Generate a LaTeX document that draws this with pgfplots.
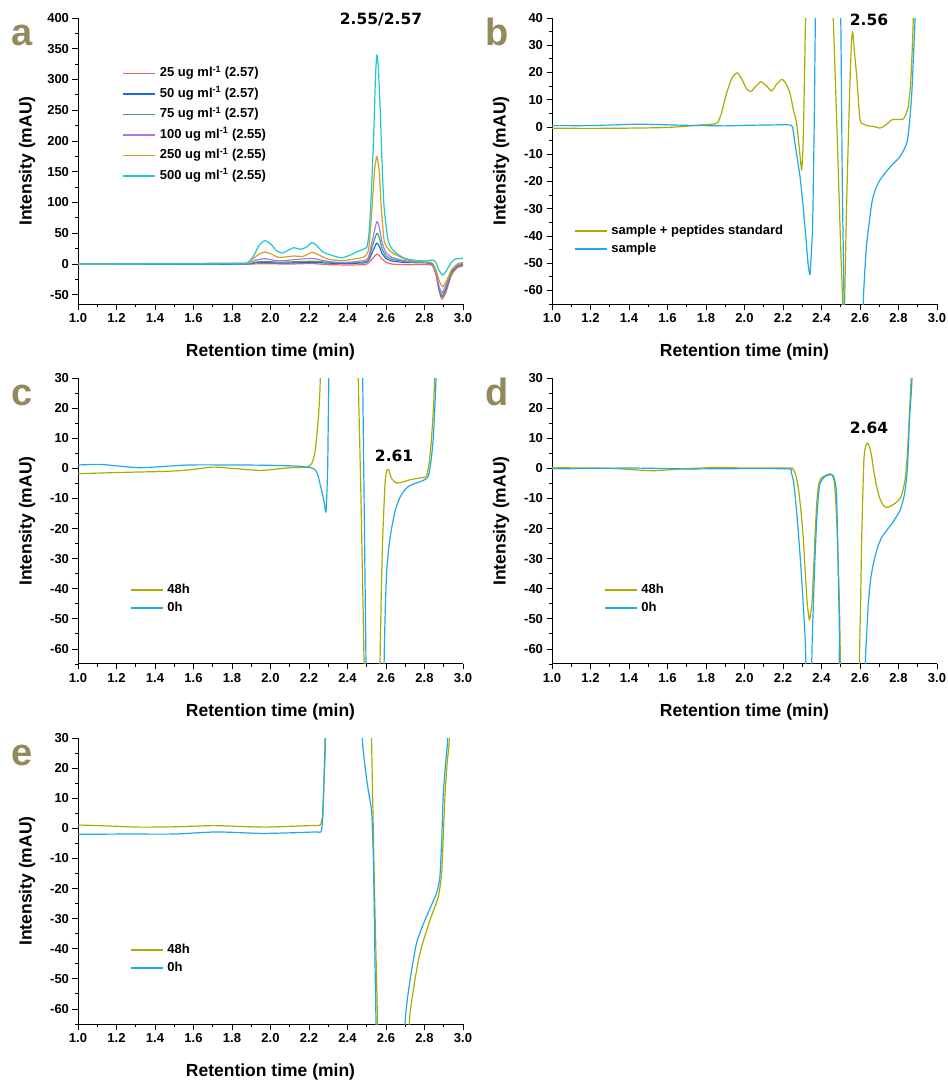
\documentclass[border=0pt]{standalone}
\usepackage{fontspec}
\setmainfont{Liberation Sans}
\newfontfamily\annfont{DejaVu Sans}
\usepackage{pgfplots}
\pgfplotsset{compat=1.18}

\definecolor{c25}{RGB}{240,100,100}
\definecolor{c50}{RGB}{30,100,230}
\definecolor{c75}{RGB}{60,170,110}
\definecolor{c100}{RGB}{170,120,230}
\definecolor{c250}{RGB}{212,160,30}
\definecolor{c500}{RGB}{30,200,210}
\definecolor{olive48}{RGB}{172,172,0}
\definecolor{sky0}{RGB}{30,170,230}
\definecolor{panel}{RGB}{148,137,90}

\newcommand\tickfont{\fontsize{13}{15}\selectfont\bfseries}
\newcommand\labfont{\fontsize{17.5}{20}\selectfont\bfseries}
\newcommand\legfont{\fontsize{13}{15}\selectfont\bfseries}
\newcommand\panfont{\fontsize{38}{40}\selectfont\bfseries}
\newcommand\annot{\fontsize{15.5}{17}\selectfont\annfont\bfseries}

\pgfplotsset{
  legend image code/.code={\draw[#1, line width=1.3pt] (0pt,0pt) -- (32pt,0pt);},
  chrom/.style={
    scale only axis, width=385pt, height=286pt,
    xmin=1, xmax=3, ymin=-65,
    axis x line*=bottom, axis y line*=left,
    axis line style={line width=1pt},
    tick align=outside, tick style={black, line width=0.8pt},
    major tick length=5.5pt, minor tick length=2.7pt,
    xtick={1,1.2,1.4,1.6,1.8,2,2.2,2.4,2.6,2.8,3},
    xticklabels={1.0,1.2,1.4,1.6,1.8,2.0,2.2,2.4,2.6,2.8,3.0},
    minor x tick num=1,
    minor y tick num=1,
    /pgf/number format/assume math mode=true,
    ticklabel style={font=\tickfont},
    x tick label style={anchor=north, text height=9.4pt, text depth=0pt},
    y tick label style={/pgf/number format/.cd, fixed, precision=0},
    xlabel={Retention time (min)}, ylabel={Intensity (mAU)},
    label style={font=\labfont},
    xlabel style={at={(axis description cs:0.5,-0.168)}, anchor=center},
    ylabel style={at={(axis description cs:-0.1325,0.5)}, anchor=center},
    clip mode=individual,
    every axis plot/.append style={line width=1.2pt, line join=round, smooth, tension=0.35},
    legend cell align=left,
    legend style={draw=none, fill=none, font=\legfont, anchor=north west,
      inner sep=0pt, column sep=4pt,
      nodes={inner sep=0pt, text height=9.5pt, text depth=3pt}},
  }
}

\begin{document}
\begin{tikzpicture}
\useasboundingbox (0,0) rectangle (948pt,-1080pt);

% ---- a ----
\begin{axis}[chrom, at={(78pt,-18pt)}, anchor=north west,
  ymax=400, ytick distance=50,
  legend image code/.code={\draw[#1, line width=1.7pt] (0pt,0pt) -- (32pt,0pt);},
  legend style={at={(axis description cs:0.1143,0.829)}, row sep=8pt}]
\addplot[c25] coordinates {(1.0,0) (1.5,0) (1.87,0) (1.97,0.5) (2.1,0) (2.215,0.8) (2.3,-1) (2.4,-1.5) (2.49,-1) (2.51,2) (2.53,9) (2.552,16) (2.565,14) (2.58,8) (2.6,3) (2.63,0) (2.7,-1) (2.8,-1) (2.84,-2) (2.86,-18) (2.875,-42) (2.89,-57) (2.91,-47) (2.94,-18) (2.97,-6) (3.0,-3)};
\addlegendentry{25 ug ml\textsuperscript{-1} (2.57)}
\addplot[c50] coordinates {(1.0,-0.5) (1.5,-0.5) (1.87,0) (1.92,2) (1.97,2.7) (2.05,1.5) (2.215,2.7) (2.3,1.5) (2.4,1) (2.49,2) (2.51,6) (2.53,20) (2.552,34) (2.565,29) (2.58,17) (2.6,9) (2.63,5) (2.7,2.5) (2.8,2) (2.84,0) (2.86,-15) (2.875,-40) (2.89,-53) (2.91,-42) (2.94,-14) (2.97,-4) (3.0,-1)};
\addlegendentry{50 ug ml\textsuperscript{-1} (2.57)}
\addplot[c75] coordinates {(1.0,-0.5) (1.5,0) (1.87,0.5) (1.92,3) (1.97,4.3) (2.05,3) (2.215,4.5) (2.3,3) (2.4,2.5) (2.49,3.5) (2.51,8) (2.53,30) (2.552,50) (2.565,43) (2.58,25) (2.6,13) (2.63,8) (2.7,4) (2.8,2.5) (2.84,0.5) (2.86,-15) (2.875,-38) (2.89,-52) (2.91,-40) (2.94,-12) (2.97,-3) (3.0,0)};
\addlegendentry{75 ug ml\textsuperscript{-1} (2.57)}
\addplot[c100] coordinates {(1.0,0) (1.5,1) (1.87,1.5) (1.92,6) (1.97,8.7) (2.02,6) (2.06,5.4) (2.12,7) (2.215,9.2) (2.27,6) (2.33,3) (2.4,2.5) (2.49,6) (2.51,12) (2.53,40) (2.552,68.8) (2.565,60) (2.58,35) (2.6,18) (2.63,11) (2.7,5) (2.8,3) (2.84,1) (2.86,-15) (2.875,-35) (2.89,-47) (2.91,-35) (2.94,-10) (2.97,-2) (3.0,1.5)};
\addlegendentry{100 ug ml\textsuperscript{-1} (2.55)}
\addplot[c250] coordinates {(1.0,0) (1.5,0.5) (1.87,1) (1.9,6) (1.94,16) (1.97,19.5) (2.0,17) (2.04,11) (2.08,11.5) (2.12,13) (2.17,12.5) (2.215,19) (2.25,15) (2.3,8) (2.37,5.5) (2.43,8) (2.49,12) (2.51,25) (2.525,80) (2.54,150) (2.552,175) (2.565,150) (2.575,93) (2.59,39) (2.61,25) (2.64,17) (2.7,7.6) (2.75,4.5) (2.81,3.3) (2.84,2) (2.86,-10) (2.88,-30) (2.895,-37) (2.91,-30) (2.94,-10) (2.97,0) (3.0,2.5)};
\addlegendentry{250 ug ml\textsuperscript{-1} (2.55)}
\addplot[c500] coordinates {(1.0,0.5) (1.5,0.5) (1.85,1) (1.88,2) (1.91,12) (1.94,30) (1.97,38) (2.0,33) (2.03,22) (2.06,18) (2.09,22) (2.12,26.5) (2.16,24) (2.19,28) (2.215,35) (2.24,30) (2.27,20) (2.3,16) (2.34,12) (2.37,10) (2.41,14) (2.45,20) (2.48,24) (2.5,27) (2.51,45) (2.52,90) (2.535,200) (2.545,300) (2.552,340) (2.56,320) (2.57,250) (2.58,160) (2.59,93) (2.61,40) (2.63,25) (2.66,16) (2.7,9) (2.75,6) (2.8,5) (2.83,6) (2.845,6.5) (2.86,2) (2.875,-10) (2.895,-18) (2.915,-10) (2.94,3) (2.96,8) (3.0,9.5)};
\addlegendentry{500 ug ml\textsuperscript{-1} (2.55)}
\node[font=\annot, yshift=-1.5pt] at (axis cs:2.574,400) {2.55/2.57};
\end{axis}

% ---- b ----
\begin{axis}[chrom, at={(552pt,-18pt)}, anchor=north west,
  ymax=40, ytick distance=10,
  legend style={at={(axis description cs:0.0571,0.2783)}, row sep=5.5pt}]
\addplot[olive48] coordinates {(1.0,-0.5) (1.3,-0.5) (1.6,-0.2) (1.77,0.7) (1.83,1) (1.86,1.5) (1.88,5) (1.907,12.4) (1.935,18) (1.963,19.9) (1.99,17) (2.01,14) (2.032,13) (2.06,15) (2.086,16.6) (2.115,15) (2.141,13.2) (2.165,15.5) (2.193,17.5) (2.215,16) (2.236,12.4) (2.255,6) (2.271,1.3) (2.285,-8) (2.297,-15.8) (2.305,-5) (2.312,20) (2.318,45) (2.32,60) (2.45,60) (2.461,40) (2.48,0) (2.5,-45) (2.51,-65) (2.515,-90) (2.52,-65) (2.53,-30) (2.545,10) (2.555,30) (2.562,35) (2.572,27) (2.583,18.5) (2.6,2.6) (2.62,1) (2.635,0.5) (2.67,0.2) (2.704,-0.4) (2.73,0.5) (2.765,2.6) (2.8,2.7) (2.825,2.9) (2.84,5) (2.851,7.6) (2.862,15) (2.869,24.6) (2.877,40) (2.88,60)};
\addlegendentry{sample + peptides standard}
\addplot[sky0] coordinates {(1.0,0.5) (1.2,0.5) (1.45,1) (1.7,0.6) (1.9,0.4) (2.0,0.6) (2.2,0.8) (2.24,0.7) (2.25,0) (2.262,-6) (2.275,-12) (2.288,-18) (2.3,-26) (2.314,-36.6) (2.33,-50) (2.34,-54.3) (2.348,-45) (2.354,-36) (2.36,-10) (2.363,6) (2.368,40) (2.37,60) (2.49,60) (2.5,40) (2.508,-20) (2.517,-65) (2.52,-100) (2.61,-100) (2.617,-65) (2.625,-53) (2.635,-42.7) (2.661,-28) (2.68,-23) (2.704,-19.4) (2.756,-14.7) (2.808,-10.9) (2.843,-6) (2.855,0) (2.869,12.4) (2.886,40) (2.89,60)};
\addlegendentry{sample}
\node[font=\annot, yshift=-1.5pt] at (axis cs:2.647,40) {2.56};
\end{axis}

% ---- c ----
\begin{axis}[chrom, at={(78pt,-378pt)}, anchor=north west,
  ymax=30, ytick distance=10,
  legend style={at={(axis description cs:0.135,0.2813)}, row sep=5.5pt}]
\addplot[olive48] coordinates {(1.0,-1.8) (1.2,-1.4) (1.46,-1) (1.58,-0.5) (1.7,0.4) (1.8,0) (1.95,-0.7) (2.1,0.2) (2.188,0.4) (2.214,1.6) (2.23,5) (2.24,10.4) (2.25,18) (2.257,26) (2.262,40) (2.265,60) (2.45,60) (2.456,30) (2.47,-10) (2.486,-65) (2.49,-100) (2.565,-100) (2.569,-65) (2.576,-40) (2.583,-22.9) (2.595,-5) (2.604,-0.7) (2.613,-0.5) (2.63,-3.5) (2.656,-4.9) (2.69,-4.5) (2.725,-3.8) (2.785,-3.1) (2.81,-2.7) (2.825,2) (2.837,10.4) (2.848,22) (2.855,35) (2.86,60)};
\addlegendentry{48h}
\addplot[sky0] coordinates {(1.0,1.1) (1.12,1.3) (1.32,0.2) (1.57,1.1) (1.84,1.1) (2.0,1) (2.15,0.7) (2.225,-0.1) (2.245,-2) (2.257,-5.1) (2.275,-10) (2.288,-14.6) (2.293,-8) (2.297,0) (2.3,15) (2.304,35) (2.306,60) (2.475,60) (2.479,30) (2.488,-20) (2.496,-65) (2.5,-100) (2.585,-100) (2.59,-65) (2.597,-45) (2.604,-34) (2.615,-26) (2.63,-19.6) (2.65,-13.5) (2.673,-9.6) (2.7,-7) (2.725,-5.7) (2.794,-4) (2.82,-2.7) (2.835,3) (2.846,10.4) (2.855,22) (2.862,35) (2.866,60)};
\addlegendentry{0h}
\node[font=\annot] at (axis cs:2.642,4.2) {2.61};
\end{axis}

% ---- d ----
\begin{axis}[chrom, at={(552pt,-378pt)}, anchor=north west,
  ymax=30, ytick distance=10,
  legend style={at={(axis description cs:0.135,0.2813)}, row sep=5.5pt}]
\addplot[olive48] coordinates {(1.0,0.2) (1.3,0) (1.52,-0.8) (1.65,-0.3) (1.85,0.3) (2.0,0.1) (2.228,0.1) (2.25,0) (2.265,-2) (2.279,-6.2) (2.293,-14) (2.305,-22.9) (2.316,-35) (2.326,-45) (2.337,-50.4) (2.344,-48) (2.35,-45) (2.358,-35) (2.366,-22.9) (2.375,-12) (2.383,-6.2) (2.395,-3.5) (2.41,-2.7) (2.444,-1.8) (2.455,-2.3) (2.465,-4) (2.472,-9) (2.479,-17.3) (2.486,-30) (2.493,-45) (2.498,-65) (2.5,-100) (2.595,-100) (2.597,-65) (2.603,-45) (2.609,-22.9) (2.615,-8) (2.621,3.8) (2.63,7.5) (2.64,8.4) (2.65,7) (2.661,3.8) (2.673,-1.5) (2.687,-6.2) (2.703,-10) (2.721,-12.3) (2.735,-13) (2.755,-12.7) (2.785,-11.5) (2.808,-10.1) (2.82,-8) (2.834,-4) (2.843,2) (2.851,10.4) (2.858,20) (2.865,30) (2.868,60)};
\addlegendentry{48h}
\addplot[sky0] coordinates {(1.0,-0.2) (1.4,0.1) (1.7,-0.2) (2.0,-0.1) (2.23,-0.2) (2.243,-1.5) (2.254,-4) (2.266,-11) (2.279,-20.7) (2.292,-32) (2.305,-45) (2.318,-62) (2.322,-100) (2.344,-100) (2.35,-62) (2.358,-45) (2.366,-30) (2.375,-17.3) (2.383,-10) (2.392,-5.1) (2.418,-2.7) (2.453,-2.1) (2.465,-3) (2.477,-7.3) (2.482,-18) (2.487,-34) (2.493,-55) (2.497,-100) (2.624,-100) (2.628,-65) (2.635,-55) (2.643,-45) (2.655,-37) (2.669,-31.8) (2.69,-26.5) (2.713,-22.9) (2.74,-20.5) (2.765,-18.4) (2.808,-14) (2.83,-9) (2.843,-2.7) (2.85,5) (2.857,16) (2.87,30) (2.874,60)};
\addlegendentry{0h}
\node[font=\annot] at (axis cs:2.647,13.5) {2.64};
\end{axis}

% ---- e ----
\begin{axis}[chrom, at={(78pt,-738pt)}, anchor=north west,
  ymax=30, ytick distance=10,
  legend style={at={(axis description cs:0.135,0.2813)}, row sep=5.5pt}]
\addplot[olive48] coordinates {(1.0,1.1) (1.15,0.8) (1.32,0.4) (1.5,0.5) (1.70,0.9) (1.85,0.6) (1.98,0.4) (2.2,0.9) (2.257,1) (2.265,2.5) (2.271,4.6) (2.278,16) (2.286,30) (2.289,60) (2.52,60) (2.525,30) (2.54,-20) (2.556,-65) (2.56,-100) (2.718,-100) (2.721,-65) (2.742,-53.8) (2.765,-45) (2.785,-39.3) (2.829,-30.4) (2.872,-22.7) (2.889,-14.9) (2.898,-2) (2.906,10.7) (2.918,22) (2.929,30) (2.932,60)};
\addlegendentry{48h}
\addplot[sky0] coordinates {(1.0,-2) (1.25,-1.9) (1.5,-1.9) (1.72,-1.2) (1.95,-1.7) (2.1,-1.5) (2.24,-1.2) (2.262,-1.2) (2.27,2) (2.276,12) (2.282,25) (2.285,35) (2.287,60) (2.472,60) (2.477,30) (2.5,16) (2.515,10) (2.526,5) (2.535,-11.6) (2.543,-45) (2.548,-65) (2.55,-100) (2.697,-100) (2.699,-65) (2.725,-50.4) (2.759,-38) (2.803,-30.4) (2.863,-21.5) (2.88,-16) (2.89,-3) (2.897,10.7) (2.91,22) (2.92,30) (2.923,60)};
\addlegendentry{0h}
\end{axis}

% panel letters
\node[anchor=base west, font=\panfont, text=panel, inner sep=0pt] at (11pt,-45pt) {a};
\node[anchor=base west, font=\panfont, text=panel, inner sep=0pt] at (485pt,-45pt) {b};
\node[anchor=base west, font=\panfont, text=panel, inner sep=0pt] at (11pt,-405pt) {c};
\node[anchor=base west, font=\panfont, text=panel, inner sep=0pt] at (485pt,-405pt) {d};
\node[anchor=base west, font=\panfont, text=panel, inner sep=0pt] at (11pt,-765pt) {e};
\end{tikzpicture}
\end{document}
